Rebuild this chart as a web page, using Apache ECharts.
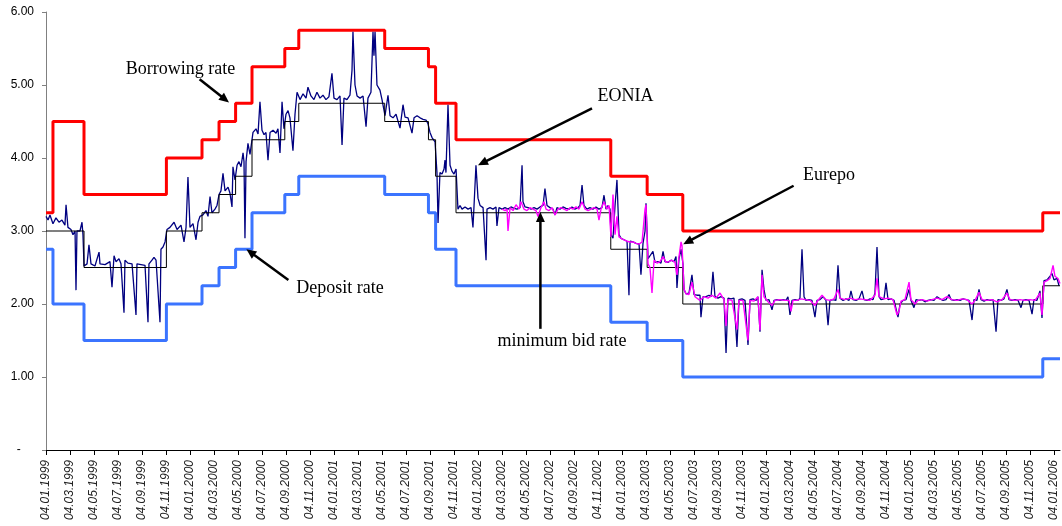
<!DOCTYPE html>
<html>
<head>
<meta charset="utf-8">
<title>ECB key rates, EONIA and Eurepo 1999-2006</title>
<script src="https://cdn.jsdelivr.net/npm/echarts@6.0.0/dist/echarts.min.js"></script>
<style>
  html, body { margin: 0; padding: 0; background: #fff; }
  #chart { width: 1062px; height: 526px; }
</style>
</head>
<body>
<div id="chart"></div>
<script>
// Policy rate changes (effective dates) and the rates in force from each date
const policyDates = ['1999-01-04','1999-01-22','1999-04-09','1999-11-05','2000-02-04','2000-03-17','2000-04-28',
  '2000-06-09','2000-09-01','2000-10-06','2001-05-11','2001-08-31','2001-09-18','2001-11-09',
  '2002-12-06','2003-03-07','2003-06-06','2005-12-06'];
const borrowingRate = [3.25,4.50,3.50,4.00,4.25,4.50,4.75,5.25,5.50,5.75,5.50,5.25,4.75,4.25,3.75,3.50,3.00,3.25];
const depositRate   = [2.75,2.00,1.50,2.00,2.25,2.50,2.75,3.25,3.50,3.75,3.50,3.25,2.75,2.25,1.75,1.50,1.00,1.25];
const minBidRate    = [3.00,3.00,2.50,3.00,3.25,3.50,3.75,4.25,4.50,4.75,4.50,4.25,3.75,3.25,2.75,2.50,2.00,2.25];

// Overnight rates: [months after 04.01.1999, rate]
const eonia = [
  [0.00,3.20],[0.17,3.15],[0.33,3.22],[0.58,3.10],[0.83,3.18],[1.08,3.12],[1.33,3.15],[1.58,3.08],[1.67,3.36],[1.83,3.05],
  [2.08,3.02],[2.25,2.95],[2.42,3.00],[2.50,2.19],[2.58,3.00],[2.83,3.00],[3.00,3.12],[3.08,2.95],[3.17,2.52],
  [3.42,2.55],[3.58,2.81],[3.75,2.55],[4.08,2.52],[4.42,2.71],[4.50,2.55],[4.92,2.54],[5.33,2.58],[5.50,2.23],[5.67,2.66],
  [5.83,2.58],[6.08,2.62],[6.25,2.55],[6.50,1.88],[6.58,2.60],[6.83,2.56],[7.17,2.55],[7.50,1.85],[7.58,2.55],[7.92,2.54],
  [8.25,2.53],[8.50,1.75],[8.58,2.55],[8.83,2.60],[9.00,2.64],[9.17,2.60],[9.50,1.75],[9.58,2.75],[9.75,2.78],[9.92,2.85],
  [10.08,3.02],[10.33,3.05],[10.67,3.12],[10.92,3.02],[11.25,3.08],[11.50,2.85],[11.67,3.05],[11.83,3.74],[12.00,3.05],
  [12.25,3.10],[12.50,2.88],[12.67,3.12],[12.83,3.20],
  [13.08,3.22],[13.33,3.28],[13.50,3.20],[13.67,3.47],[13.83,3.25],[14.08,3.30],[14.25,3.35],
  [14.42,3.50],[14.58,3.55],[14.75,3.79],[14.92,3.55],[15.17,3.60],[15.33,3.52],[15.50,3.33],[15.58,3.88],[15.75,3.70],
  [15.92,3.90],[16.08,3.95],[16.25,3.88],[16.42,4.07],[16.50,3.95],[16.58,2.90],[16.67,3.95],[16.83,4.20],[17.00,4.05],
  [17.25,4.35],[17.50,4.40],[17.67,4.33],[17.83,4.77],[18.00,4.38],[18.17,4.32],[18.33,4.35],[18.50,3.97],[18.67,4.35],
  [18.92,4.38],[19.17,4.34],[19.33,4.40],[19.50,4.07],[19.67,4.77],[19.83,4.40],
  [20.00,4.60],[20.17,4.65],[20.33,4.55],[20.58,4.10],[20.75,4.60],[20.92,4.90],
  [21.17,4.80],[21.42,4.88],[21.67,4.82],[21.83,4.97],[22.08,4.85],[22.33,4.80],[22.58,4.90],[22.83,4.82],[23.08,4.86],
  [23.33,4.80],[23.58,4.84],[23.83,5.16],[24.00,4.82],[24.25,4.80],[24.50,4.85],[24.67,4.18],[24.83,4.82],[25.08,4.80],
  [25.33,4.86],[25.50,5.20],[25.58,5.73],[25.75,5.00],[25.92,4.85],[26.17,4.82],[26.42,4.85],[26.67,4.43],[26.83,4.82],
  [27.08,4.90],[27.25,5.73],[27.33,5.40],[27.42,5.73],[27.58,5.00],[27.83,4.93],[28.00,4.80],
  [28.25,4.58],[28.50,4.86],[28.67,4.58],[28.92,4.55],[29.17,4.60],[29.50,4.41],[29.75,4.73],[29.92,4.56],[30.17,4.55],
  [30.50,4.34],[30.67,4.55],[30.92,4.58],[31.17,4.55],[31.42,4.53],[31.67,4.52],[31.83,4.47],
  [32.00,4.35],[32.17,4.28],[32.42,4.22],
  [32.58,3.80],[32.67,3.11],[32.83,3.80],[33.00,3.78],[33.17,3.85],[33.25,3.97],[33.33,3.80],[33.50,4.73],[33.67,3.90],
  [33.83,3.82],[34.00,3.78],[34.17,3.85],
  [34.33,3.30],[34.50,3.35],[34.67,3.30],[34.92,3.33],[35.17,3.30],[35.42,3.32],[35.58,3.05],[35.67,3.35],[35.83,3.90],
  [36.00,3.45],[36.17,3.35],[36.42,3.32],[36.67,2.60],[36.75,3.30],[37.00,3.32],[37.25,3.30],[37.50,3.33],[37.58,3.07],
  [37.75,3.32],[38.00,3.30],[38.25,3.32],[38.50,3.30],[38.75,3.33],[39.00,3.31],[39.25,3.30],[39.50,3.32],[39.67,3.90],
  [39.75,3.40],[39.92,3.33],[40.17,3.32],[40.42,3.30],[40.67,3.32],[40.92,3.30],[41.17,3.33],[41.42,3.35],[41.58,3.58],
  [41.75,3.35],[42.00,3.32],[42.25,3.30],[42.42,3.22],[42.58,3.32],[42.83,3.30],[43.08,3.33],[43.33,3.31],[43.58,3.30],
  [43.83,3.33],[44.08,3.30],[44.33,3.32],[44.50,3.35],[44.67,3.63],[44.83,3.35],[45.08,3.30],[45.33,3.32],[45.58,3.30],
  [45.83,3.33],[46.08,3.30],[46.33,3.32],[46.50,3.49],[46.67,3.30],[46.83,3.35],
  [47.00,3.30],[47.08,2.95],[47.25,2.90],[47.42,3.35],[47.58,3.70],[47.75,2.95],[47.92,2.90],[48.17,2.88],[48.42,2.86],
  [48.58,2.12],[48.67,2.86],[48.92,2.85],[49.17,2.83],[49.42,2.82],[49.58,2.40],[49.75,2.83],[49.92,3.00],[50.00,3.38],
  [50.17,2.62],[50.33,2.60],[50.58,2.72],[50.75,2.57],[51.00,2.58],[51.25,2.56],[51.42,2.72],[51.58,2.58],[51.83,2.57],
  [52.08,2.60],[52.33,2.58],[52.50,2.65],[52.58,2.22],[52.75,2.62],[52.92,2.75],[53.08,2.55],
  [53.17,2.20],[53.33,2.14],[53.58,2.15],[53.83,2.40],[54.00,2.13],[54.25,2.12],[54.50,2.12],[54.58,1.82],[54.75,2.10],
  [55.00,2.10],[55.25,2.12],[55.42,2.10],[55.58,2.44],[55.75,2.10],[56.00,2.08],[56.25,2.10],[56.50,2.08],[56.67,1.33],
  [56.83,2.08],[57.08,2.07],[57.33,2.08],[57.58,1.41],[57.75,2.06],[58.00,2.07],[58.25,2.05],[58.50,1.44],[58.67,2.06],
  [58.92,2.07],[59.17,2.05],[59.33,2.10],[59.50,1.62],[59.67,2.47],[59.83,2.20],[60.00,2.05],[60.25,2.06],[60.50,1.92],
  [60.67,2.05],[60.92,2.06],[61.17,2.05],[61.42,2.06],[61.67,2.05],[61.83,2.10],[62.00,1.85],[62.17,2.05],[62.42,2.06],
  [62.67,2.05],[62.83,2.08],[63.00,2.75],[63.17,2.10],[63.33,2.05],[63.58,2.06],[63.83,2.05],[64.08,1.82],[64.25,2.05],
  [64.50,2.06],[64.75,2.10],[65.00,2.05],[65.17,1.71],[65.33,2.05],[65.58,2.06],[65.83,2.05],[66.00,2.53],[66.17,2.08],
  [66.42,2.05],[66.67,2.07],[66.92,2.05],[67.08,2.18],[67.25,2.06],[67.50,2.05],[67.75,2.07],[68.00,2.18],[68.17,2.06],
  [68.42,2.05],[68.67,2.07],[68.92,2.06],[69.08,2.15],[69.25,2.78],[69.42,2.10],[69.58,2.06],[69.83,2.07],[70.00,2.29],
  [70.17,2.06],[70.42,2.07],[70.67,2.05],[70.83,2.03],[71.00,1.82],[71.17,2.00],[71.42,2.05],[71.67,2.06],[71.92,2.20],
  [72.08,2.05],[72.33,1.95],[72.50,2.06],[72.75,2.05],[73.00,2.06],[73.25,2.03],[73.50,2.05],[73.75,2.06],[74.00,2.05],
  [74.25,2.10],[74.50,2.07],[74.75,2.05],[75.00,2.06],[75.25,2.13],[75.42,2.06],[75.67,2.05],[75.92,2.06],[76.17,2.05],
  [76.42,2.07],[76.67,2.06],[76.92,2.05],[77.17,1.78],[77.33,2.06],[77.58,2.05],[77.75,2.20],[77.92,2.06],[78.17,2.04],
  [78.42,2.06],[78.67,2.05],[78.92,2.06],[79.17,1.62],[79.33,2.06],[79.58,2.05],[79.83,2.07],[80.08,2.20],[80.25,2.06],
  [80.50,2.05],[80.75,2.06],[81.00,2.05],[81.25,1.95],[81.42,2.05],[81.67,2.06],[81.92,2.05],[82.17,1.86],[82.33,2.06],
  [82.58,2.05],[82.83,2.18],[83.00,1.81],[83.17,2.32],[83.42,2.33],[83.67,2.38],[83.83,2.42],[84.00,2.33],[84.25,2.35],
  [84.42,2.25]
];

const eurepo = [
  [38.00,3.30],[38.25,3.28],[38.42,3.30],[38.50,3.00],[38.67,3.32],[38.92,3.28],[39.17,3.36],[39.42,3.30],[39.58,3.40],
  [39.83,3.30],[40.08,3.28],[40.33,3.32],[40.58,3.30],[40.83,3.28],[41.00,3.20],[41.25,3.32],[41.50,3.40],[41.67,3.30],
  [41.92,3.28],[42.17,3.32],[42.42,3.22],[42.67,3.30],[42.92,3.32],[43.17,3.30],[43.42,3.28],[43.67,3.32],[43.92,3.30],
  [44.17,3.33],[44.42,3.30],[44.67,3.40],[44.92,3.30],[45.17,3.28],[45.42,3.30],[45.67,3.32],[45.92,3.30],[46.08,3.15],
  [46.25,3.30],[46.50,3.40],[46.75,3.30],[46.92,3.35],
  [47.08,2.92],[47.25,3.50],[47.42,2.95],[47.58,3.20],[47.75,2.92],[47.92,2.90],[48.17,2.88],[48.42,2.86],[48.67,2.85],
  [48.92,2.85],[49.17,2.83],[49.42,2.82],[49.67,2.85],[49.92,3.30],[50.00,3.36],
  [50.17,2.55],[50.33,2.50],[50.50,2.15],[50.67,2.60],[50.92,2.56],[51.17,2.58],[51.42,2.65],[51.67,2.57],[51.92,2.58],
  [52.17,2.60],[52.42,2.57],[52.58,2.40],[52.75,2.65],[52.92,2.85],[53.00,2.80],
  [53.17,2.20],[53.33,2.14],[53.58,2.13],[53.83,2.30],[54.08,2.10],[54.50,2.05],[54.83,2.10],[55.17,2.08],[55.50,2.12],
  [55.83,2.08],[56.17,2.15],[56.50,2.06],[56.67,1.70],[56.83,2.06],[57.17,2.05],[57.58,1.65],[57.75,2.05],[58.08,2.05],
  [58.50,1.50],[58.67,2.05],[59.00,2.04],[59.33,2.10],[59.50,1.64],[59.67,2.40],[59.83,2.10],[60.17,2.03],[60.50,1.98],
  [60.75,2.05],[61.17,2.06],[61.58,2.05],[61.92,2.05],[62.08,1.90],[62.25,2.05],[62.58,2.05],[62.92,2.07],[63.25,2.06],
  [63.67,2.05],[64.08,1.98],[64.33,2.05],[64.67,2.12],[65.00,2.06],[65.33,2.05],[65.67,2.07],[66.00,2.20],[66.17,2.08],
  [66.58,2.06],[67.00,2.08],[67.42,2.06],[67.83,2.07],[68.25,2.06],[68.67,2.05],[69.08,2.12],[69.25,2.35],[69.42,2.10],
  [69.83,2.07],[70.17,2.08],[70.58,2.06],[70.92,1.85],[71.08,1.90],[71.25,2.04],[71.58,2.06],[71.92,2.30],[72.08,2.06],
  [72.42,2.00],[72.67,2.05],[73.00,2.06],[73.42,2.04],[73.83,2.06],[74.25,2.08],[74.67,2.06],[75.08,2.10],[75.50,2.06],
  [75.92,2.05],[76.33,2.07],[76.75,2.06],[77.17,2.00],[77.42,2.05],[77.75,2.16],[78.00,2.06],[78.42,2.05],[78.83,2.06],
  [79.25,2.03],[79.67,2.06],[80.08,2.15],[80.33,2.06],[80.75,2.05],[81.17,2.06],[81.58,2.05],[82.00,2.06],[82.42,2.05],
  [82.83,2.15],[83.00,1.85],[83.17,2.30],[83.42,2.32],[83.67,2.35],[83.92,2.53],[84.08,2.38],[84.33,2.35],[84.50,2.28]
];

// Axis tick labels
const yTickLabels = ['-', '1.00', '2.00', '3.00', '4.00', '5.00', '6.00'];
const xTickLabels = [
  '04.01.1999','04.03.1999','04.05.1999','04.07.1999','04.09.1999','04.11.1999',
  '04.01.2000','04.03.2000','04.05.2000','04.07.2000','04.09.2000','04.11.2000',
  '04.01.2001','04.03.2001','04.05.2001','04.07.2001','04.09.2001','04.11.2001',
  '04.01.2002','04.03.2002','04.05.2002','04.07.2002','04.09.2002','04.11.2002',
  '04.01.2003','04.03.2003','04.05.2003','04.07.2003','04.09.2003','04.11.2003',
  '04.01.2004','04.03.2004','04.05.2004','04.07.2004','04.09.2004','04.11.2004',
  '04.01.2005','04.03.2005','04.05.2005','04.07.2005','04.09.2005','04.11.2005',
  '04.01.2006'
];

const X_END = 84.5; // last day plotted, in months after 04.01.1999

// date string -> months after 04.01.1999
function toMonths(s) {
  const [y, m, d] = s.split('-').map(Number);
  const days = new Date(Date.UTC(y, m, 0)).getUTCDate();
  return (y - 1999) * 12 + (m - 1) + (d - 4) / days;
}
function stepData(rates) {
  const pts = policyDates.map((d, i) => [toMonths(d), rates[i]]);
  pts.push([X_END, rates[rates.length - 1]]);
  return pts;
}
const tickValues = xTickLabels.map((_, i) => i * 2);

const chart = echarts.init(document.getElementById('chart'), null, { renderer: 'canvas' });

const option = {
  animation: false,
  backgroundColor: '#fff',
  grid: { left: 46, right: 2, top: 12, bottom: 76 },
  xAxis: {
    type: 'value', min: 0, max: X_END,
    axisLine: { show: true, onZero: false, lineStyle: { color: '#000', width: 1 } },
    axisTick: { show: true, customValues: tickValues, length: 5, inside: false, lineStyle: { color: '#000' } },
    splitLine: { show: false },
    axisLabel: {
      customValues: tickValues,
      rotate: 90, margin: 10,
      fontFamily: 'Liberation Sans', fontSize: 12, fontStyle: 'italic', color: '#222',
      formatter: v => xTickLabels[Math.round(v / 2)] || ''
    }
  },
  yAxis: {
    type: 'value', min: 0, max: 6, interval: 1,
    axisLine: { show: true, lineStyle: { color: '#808080', width: 1 } },
    axisTick: { show: true, length: 4, lineStyle: { color: '#808080' } },
    splitLine: { show: false },
    axisLabel: {
      margin: 12, fontFamily: 'Liberation Sans', fontSize: 12, color: '#000',
      formatter: v => (v === 0 ? '-    ' : yTickLabels[v])
    }
  },
  series: [
    { name: 'Borrowing rate', type: 'line', step: 'end', data: stepData(borrowingRate),
      symbol: 'none', lineStyle: { color: '#ff0000', width: 3 }, z: 2 },
    { name: 'Deposit rate', type: 'line', step: 'end', data: stepData(depositRate),
      symbol: 'none', lineStyle: { color: '#3b74ff', width: 3 }, z: 2 },
    { name: 'EONIA', type: 'line', data: eonia,
      symbol: 'none', lineStyle: { color: '#000080', width: 1.3 }, z: 3 },
    { name: 'minimum bid rate', type: 'line', step: 'end', data: stepData(minBidRate),
      symbol: 'none', lineStyle: { color: '#000', width: 1 }, z: 4 },
    { name: 'Eurepo', type: 'line', data: eurepo,
      symbol: 'none', lineStyle: { color: '#ff00ff', width: 1.4 }, z: 5 }
  ]
};
chart.setOption(option);

// Callouts: text and arrow positions given in data units
const callouts = [
  { text: 'Borrowing rate',   at: [11.2, 5.21], from: [12.8, 5.08], to: [15.25, 4.76] },
  { text: 'EONIA',            at: [48.3, 4.84], from: [45.5, 4.68], to: [36.0, 3.90] },
  { text: 'Eurepo',           at: [65.25, 3.77], from: [62.3, 3.62], to: [53.1, 2.82] },
  { text: 'Deposit rate',     at: [24.5, 2.22], from: [20.2, 2.33], to: [16.7, 2.75] },
  { text: 'minimum bid rate', at: [43.0, 1.49], from: [41.2, 1.66], to: [41.2, 3.26] }
];

function px(p) { return chart.convertToPixel({ gridIndex: 0 }, p); }

const graphics = [];
callouts.forEach(c => {
  const t = px(c.at), a = px(c.from), b = px(c.to);
  graphics.push({
    type: 'text', x: t[0], y: t[1], z: 10,
    style: { text: c.text, fontFamily: 'Liberation Serif', fontSize: 18, fill: '#000',
             align: 'center', verticalAlign: 'middle' }
  });
  const dx = b[0] - a[0], dy = b[1] - a[1];
  const len = Math.sqrt(dx * dx + dy * dy);
  const ux = dx / len, uy = dy / len;
  const head = 10, half = 4.5;
  const bx = b[0] - ux * head, by = b[1] - uy * head;
  graphics.push({
    type: 'line', z: 10,
    shape: { x1: a[0], y1: a[1], x2: bx + ux * 2, y2: by + uy * 2 },
    style: { stroke: '#000', lineWidth: 2.5 }
  });
  graphics.push({
    type: 'polygon', z: 10,
    shape: { points: [[b[0], b[1]], [bx - uy * half, by + ux * half], [bx + uy * half, by - ux * half]] },
    style: { fill: '#000' }
  });
});
chart.setOption({ graphic: graphics });
</script>
</body>
</html>
